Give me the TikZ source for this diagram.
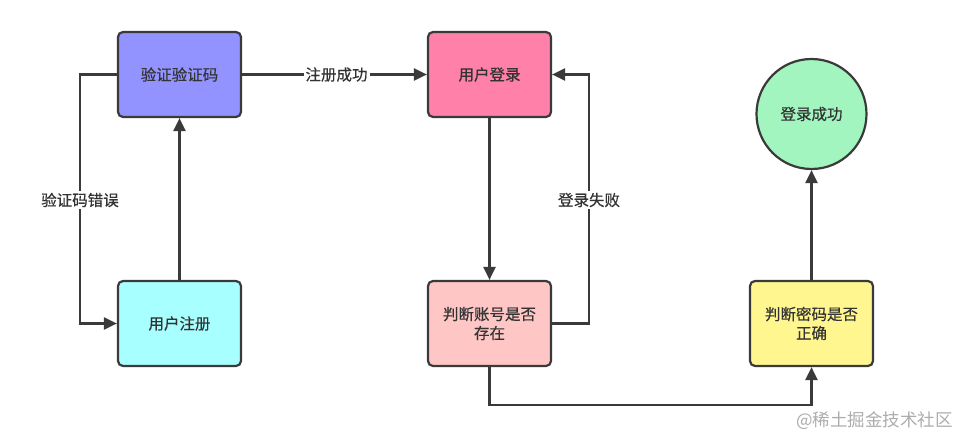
\documentclass[tikz,border=0pt]{standalone}
\usepackage{fontspec}
\setmainfont{Noto Sans CJK SC}[FakeBold=0.5]
\newfontfamily\wmfont{Noto Sans CJK SC}
\usetikzlibrary{arrows.meta,positioning}
\definecolor{edge}{HTML}{3A3A3A}
\definecolor{txt}{HTML}{333333}
\definecolor{cblue}{HTML}{9393FF}
\definecolor{cpink}{HTML}{FF80A8}
\definecolor{ccyan}{HTML}{A8FFFF}
\definecolor{clpink}{HTML}{FFC6C6}
\definecolor{cyellow}{HTML}{FFF68F}
\definecolor{cgreen}{HTML}{A2F5BE}
\tikzset{
  x=1pt, y=-1pt,
  boxnode/.style={draw=edge, line width=2.2pt, rounded corners=5pt, minimum width=123pt, minimum height=85pt, align=center, text=txt, font=\fontsize{15.5}{19}\selectfont, inner sep=2pt},
  circnode/.style={draw=edge, line width=2.2pt, circle, minimum size=110pt, text=txt, font=\fontsize{15.5}{19}\selectfont, inner sep=0pt},
  conn/.style={draw=edge, line width=2.2pt, -{Triangle[length=13pt,width=12pt]}},
  lbl/.style={fill=white, text=txt, font=\fontsize{15.5}{19}\selectfont, inner sep=2pt},
}
\begin{document}
\begin{tikzpicture}
\useasboundingbox (0,0) rectangle (969,447);
\node[boxnode, fill=cblue] (verify) at (179.5,74.5) {验证验证码};
\node[boxnode, fill=ccyan] (reg) at (179.5,323.5) {用户注册};
\node[boxnode, fill=cpink] (login) at (489.5,74.5) {用户登录};
\node[boxnode, fill=clpink] (acct) at (489.5,323.5) {判断账号是否\\存在};
\node[boxnode, fill=cyellow] (pwd) at (811.5,323.5) {判断密码是否\\正确};
\node[circnode, fill=cgreen] (ok) at (811.5,114) {登录成功};
\coordinate (c1) at (80,74.5);
\coordinate (c2) at (80,323.5);
\coordinate (c3) at (589,323.5);
\coordinate (c4) at (589,74.5);
\coordinate (c5) at (489.5,405);
\coordinate (c6) at (811.5,405);
\draw[conn] (verify.west) -- (c1) -- (c2) -- (reg.west);
\node[lbl] (l1) at (80,200) {验证码错误};
\draw[conn] (reg.north) -- (verify.south);
\draw[conn] (verify.east) -- (login.west) node[lbl, midway, xshift=2pt] (l2) {注册成功};
\draw[conn] (login.south) -- (acct.north);
\draw[conn] (acct.east) -- (c3) -- (c4) -- (login.east);
\node[lbl] (l3) at (589,200) {登录失败};
\draw[conn] (acct.south) -- (c5) -- (c6) -- (pwd.south);
\draw[conn] (pwd.north) -- (ok.south);
\node[text=gray!65, font=\wmfont\fontsize{17.5}{19}\selectfont, anchor=east, inner sep=0pt] (wm) at (953,421) {@稀土掘金技术社区};
\end{tikzpicture}
\end{document}
